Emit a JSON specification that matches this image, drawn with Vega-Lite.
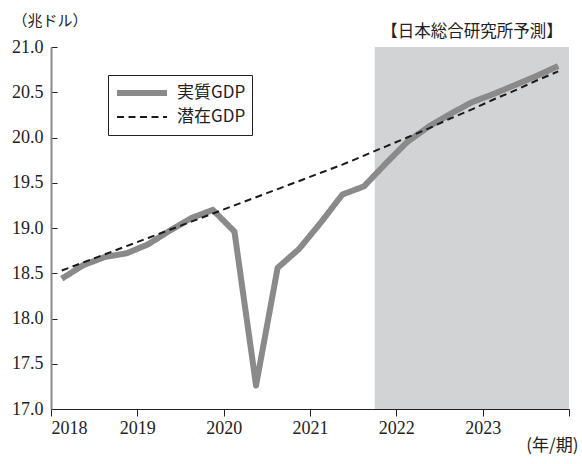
{
  "$schema": "https://vega.github.io/schema/vega-lite/v6.json",
  "width": 518,
  "height": 362,
  "autosize": {"type": "none"},
  "padding": {"left": 51, "top": 47, "right": 13, "bottom": 55},
  "background": "white",
  "config": {
    "view": {"stroke": null},
    "font": "Liberation Serif",
    "axis": {"grid": false, "labelFont": "Liberation Serif", "labelFontSize": 18, "labelColor": "#222", "titleColor": "#222"}
  },
  "datasets": {
    "gdp": [
      {"t": 2018.125, "series": "実質GDP", "value": 18.44},
      {"t": 2018.375, "series": "実質GDP", "value": 18.59},
      {"t": 2018.625, "series": "実質GDP", "value": 18.68},
      {"t": 2018.875, "series": "実質GDP", "value": 18.72},
      {"t": 2019.125, "series": "実質GDP", "value": 18.82},
      {"t": 2019.375, "series": "実質GDP", "value": 18.97},
      {"t": 2019.625, "series": "実質GDP", "value": 19.11},
      {"t": 2019.875, "series": "実質GDP", "value": 19.2},
      {"t": 2020.125, "series": "実質GDP", "value": 18.96},
      {"t": 2020.375, "series": "実質GDP", "value": 17.26},
      {"t": 2020.625, "series": "実質GDP", "value": 18.56},
      {"t": 2020.875, "series": "実質GDP", "value": 18.77},
      {"t": 2021.125, "series": "実質GDP", "value": 19.06},
      {"t": 2021.375, "series": "実質GDP", "value": 19.37},
      {"t": 2021.625, "series": "実質GDP", "value": 19.46},
      {"t": 2021.875, "series": "実質GDP", "value": 19.71},
      {"t": 2022.125, "series": "実質GDP", "value": 19.95},
      {"t": 2022.375, "series": "実質GDP", "value": 20.12},
      {"t": 2022.625, "series": "実質GDP", "value": 20.26},
      {"t": 2022.875, "series": "実質GDP", "value": 20.39},
      {"t": 2023.125, "series": "実質GDP", "value": 20.48},
      {"t": 2023.375, "series": "実質GDP", "value": 20.58},
      {"t": 2023.625, "series": "実質GDP", "value": 20.68},
      {"t": 2023.875, "series": "実質GDP", "value": 20.79},
      {"t": 2018.125, "series": "潜在GDP", "value": 18.53},
      {"t": 2018.375, "series": "潜在GDP", "value": 18.62},
      {"t": 2018.625, "series": "潜在GDP", "value": 18.71},
      {"t": 2018.875, "series": "潜在GDP", "value": 18.8},
      {"t": 2019.125, "series": "潜在GDP", "value": 18.89},
      {"t": 2019.375, "series": "潜在GDP", "value": 18.98},
      {"t": 2019.625, "series": "潜在GDP", "value": 19.07},
      {"t": 2019.875, "series": "潜在GDP", "value": 19.16},
      {"t": 2020.125, "series": "潜在GDP", "value": 19.25},
      {"t": 2020.375, "series": "潜在GDP", "value": 19.34},
      {"t": 2020.625, "series": "潜在GDP", "value": 19.43},
      {"t": 2020.875, "series": "潜在GDP", "value": 19.52},
      {"t": 2021.125, "series": "潜在GDP", "value": 19.61},
      {"t": 2021.375, "series": "潜在GDP", "value": 19.7},
      {"t": 2021.625, "series": "潜在GDP", "value": 19.8},
      {"t": 2021.875, "series": "潜在GDP", "value": 19.9},
      {"t": 2022.125, "series": "潜在GDP", "value": 20.0},
      {"t": 2022.375, "series": "潜在GDP", "value": 20.1},
      {"t": 2022.625, "series": "潜在GDP", "value": 20.21},
      {"t": 2022.875, "series": "潜在GDP", "value": 20.31},
      {"t": 2023.125, "series": "潜在GDP", "value": 20.42},
      {"t": 2023.375, "series": "潜在GDP", "value": 20.52},
      {"t": 2023.625, "series": "潜在GDP", "value": 20.63},
      {"t": 2023.875, "series": "潜在GDP", "value": 20.73}
    ],
    "forecast": [{"start": 2021.75, "end": 2024, "label": "【日本総合研究所予測】"}]
  },
  "layer": [
    {
      "data": {"name": "forecast"},
      "mark": {"type": "rect", "color": "#d2d3d5"},
      "encoding": {
        "x": {"field": "start", "type": "quantitative", "scale": {"domain": [2018, 2024], "nice": false, "zero": false},
          "axis": {"values": [2018, 2019, 2020, 2021, 2022, 2023, 2024], "format": "d", "labelExpr": "datum.value == 2024 ? '' : datum.label",
            "domainColor": "#222", "domainWidth": 1.2, "tickColor": "#222", "tickSize": 7, "labelPadding": 3,
            "title": "(年/期)", "titleFont": "Noto Sans CJK JP", "titleFontSize": 17, "titleFontWeight": "normal",
            "titleAlign": "right", "titleBaseline": "middle", "titleX": 527, "titleY": 36, "titleAngle": 0}},
        "x2": {"field": "end"},
        "y": {"datum": 17, "type": "quantitative", "scale": {"domain": [17, 21], "nice": false, "zero": false},
          "axis": {"values": [17, 17.5, 18, 18.5, 19, 19.5, 20, 20.5, 21], "format": ".1f",
            "domainColor": "#8a8a8a", "domainWidth": 2, "tickColor": "#222", "tickSize": -6, "labelPadding": 14,
            "title": "（兆ドル）", "titleFont": "Noto Sans CJK JP", "titleFontSize": 15, "titleFontWeight": "normal",
            "titleAngle": 0, "titleAlign": "left", "titleBaseline": "middle", "titleX": -39, "titleY": -27}},
        "y2": {"datum": 21}
      }
    },
    {
      "data": {"name": "forecast"},
      "mark": {"type": "text", "font": "Noto Sans CJK JP", "fontSize": 16.5, "color": "#222", "baseline": "middle", "align": "center", "dy": -15},
      "encoding": {
        "x": {"datum": 2022.875, "type": "quantitative"},
        "y": {"datum": 21, "type": "quantitative"},
        "text": {"field": "label"}
      }
    },
    {
      "data": {"name": "gdp"},
      "mark": {"type": "line", "strokeJoin": "round", "strokeCap": "butt"},
      "encoding": {
        "x": {"field": "t", "type": "quantitative"},
        "y": {"field": "value", "type": "quantitative"},
        "color": {"field": "series", "type": "nominal",
          "scale": {"domain": ["実質GDP", "潜在GDP"], "range": ["#8a8a8a", "#1a1a1a"]},
          "legend": {"orient": "none", "legendX": 57, "legendY": 28, "title": null, "strokeColor": "#222", "fillColor": "white",
            "padding": 6, "symbolType": "stroke", "symbolSize": 2500, "clipHeight": 24, "labelFont": "Noto Sans CJK JP", "labelFontSize": 17,
            "labelColor": "#222", "labelOffset": 7, "rowPadding": 0}},
        "strokeDash": {"field": "series", "type": "nominal",
          "scale": {"domain": ["実質GDP", "潜在GDP"], "range": [[1, 0], [7, 4.5]]}},
        "strokeWidth": {"field": "series", "type": "nominal",
          "scale": {"domain": ["実質GDP", "潜在GDP"], "range": [6, 2]}}
      }
    }
  ]
}
